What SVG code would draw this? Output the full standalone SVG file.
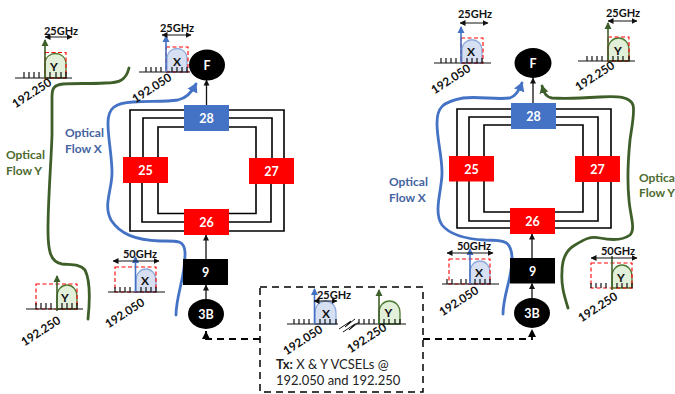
<svg xmlns="http://www.w3.org/2000/svg" width="675" height="394" viewBox="0 0 675 394">
<style>
text{font-family:Lato,"Open Sans","Liberation Sans",sans-serif}
.n{fill:#fff;font-weight:700;font-size:12.5px;text-anchor:middle}
.blk{fill:#000}.red{fill:#f00}.blu{fill:#4472c4}
.w{fill:none;stroke:#000;stroke-width:1.6}
.ar{fill:none;stroke:#111;stroke-width:1.3;marker-end:url(#a)}
.dbl{fill:none;stroke:#111;stroke-width:1;marker-start:url(#as);marker-end:url(#a)}
.fb{fill:none;stroke:#4472c4;stroke-width:2.8;stroke-linecap:round}
.fg{fill:none;stroke:#3f5f2a;stroke-width:2.8;stroke-linecap:round}
.base{fill:none;stroke:#111;stroke-width:1.2}
.box{fill:none;stroke:#f00;stroke-width:1.1;stroke-dasharray:4 2.5}
.hb{fill:#d6e0f2;stroke:#8fabdc;stroke-width:1.3}
.hg{fill:#e2efd9;stroke:#4d7a33;stroke-width:1.3}
.sb{stroke:#4472c4;stroke-width:1.6;fill:none;marker-end:url(#ab)}
.sg{stroke:#3f5f2a;stroke-width:1.6;fill:none;marker-end:url(#ag)}
.l{font-size:11.8px;fill:#111;font-weight:700;text-anchor:middle}
.g{font-size:11px;fill:#111;font-weight:700;text-anchor:middle}
.h{font-size:12px;fill:#111;font-weight:700;text-anchor:middle}
.tb{font-size:12px;font-weight:700;fill:#44639f}
.tg{font-size:12px;font-weight:700;fill:#4d6b2f}
.tx{font-size:13px;fill:#222}
</style>
<defs>
<marker id="a" markerUnits="userSpaceOnUse" markerWidth="7" markerHeight="7" refX="5.500" refY="3.500" orient="auto"><path d="M0 0.500L6 3.500L0 6.500Z" fill="#111"/></marker>
<marker id="as" markerUnits="userSpaceOnUse" markerWidth="7" markerHeight="7" refX="0.500" refY="3.500" orient="auto"><path d="M6 0.500L0 3.500L6 6.500Z" fill="#111"/></marker>
<marker id="ab" markerUnits="userSpaceOnUse" markerWidth="8" markerHeight="8" refX="6" refY="4" orient="auto"><path d="M0 0.5L7 4L0 7.5Z" fill="#4472c4"/></marker>
<marker id="ag" markerUnits="userSpaceOnUse" markerWidth="8" markerHeight="8" refX="6" refY="4" orient="auto"><path d="M0 0.5L7 4L0 7.5Z" fill="#3f5f2a"/></marker>
<marker id="fbm" markerUnits="userSpaceOnUse" markerWidth="12" markerHeight="12" refX="8" refY="6" orient="auto"><path d="M0 0.5L9 6L0 11.5Z" fill="#4472c4"/></marker>
<marker id="fgm" markerUnits="userSpaceOnUse" markerWidth="12" markerHeight="12" refX="7" refY="5" orient="auto"><path d="M0 0.5L8 5L0 9.5Z" fill="#3f5f2a"/></marker>
<marker id="dm" markerUnits="userSpaceOnUse" markerWidth="10" markerHeight="10" refX="8" refY="5" orient="auto"><path d="M0 1L8 5L0 9Z" fill="#000"/></marker>
</defs>

<g id="connectors">
<path class="w" d="M184 110H130V157M184 118H143V157M184 127H158V157M229 110H284V158M229 118H272V158M229 127H256V158M130 183V231H184M142 183V222H184M158 183V213.500H184M284 184V231H229M271 184V222H229M256 184V213.500H229"/>
<path class="w" d="M511 109H457V156M511 117H469V156M511 125H484V156M556 109H611V156M556 117H598V156M556 125H583V156M457 181V228H510M469 181V221H510M484 181V212H510M611 182V228H555M598 182V221H555M583 182V212H555"/>
<path class="ar" d="M206.500 105V80"/><path class="ar" d="M206 259V235"/><path class="ar" d="M206 299V285"/><path class="ar" d="M533 103V78"/><path class="ar" d="M532 258V234"/><path class="ar" d="M532 298V283.500"/>
<path d="M260 339H206V331" fill="none" stroke="#000" stroke-width="1.800" stroke-dasharray="7 5" marker-end="url(#dm)"/>
<path d="M423 339H532V329" fill="none" stroke="#000" stroke-width="1.800" stroke-dasharray="7 5" marker-end="url(#dm)"/>
<path class="fb" marker-end="url(#fbm)" d="M176 315C176 295 186 275 185 252C184 240 178 241 160 241C135 240 120 234 111 220C103 205 112 190 112 173C112 155 108 140 108 123C108 108 115 103 133 102C150 101 165 102 178 100C187 98 192 92 196 84"/>
<path class="fb" marker-end="url(#fbm)" d="M503 314C503 295 513 275 512 257C511 241 505 240 485 240C465 239 450 235 442 225C433 212 442 190 442 173C442 155 437 140 437 123C437 108 442 102 463 98C480 96 495 100 510 98C516 96 519 91 522 83"/>
<path class="fg" d="M129 68C126 80 120 83 105 83C90 84 75 83 63 84C54 85 52 88 52 97C52 110 52 120 52 135C51 165 48 200 48 230C48 250 50 262 62 264C72 265 80 264 85 270C90 280 90 300 88 319"/>
<path class="fg" marker-end="url(#fgm)" d="M568 308C564 295 561 285 562 272C562 258 566 250 575 245C585 239 590 236 600 238C610 240 622 241 630 235C636 229 630 215 629 200C627 180 628 160 630 140C632 125 635 112 633 105C630 97 620 96 600 97C585 98 565 99 552 98C546 97 544 93 542 86"/>
<rect x="260" y="287" width="163" height="105" fill="none" stroke="#000" stroke-width="1.500" stroke-dasharray="7 5"/>
</g>

<g id="n28"><rect class="blu" x="184" y="105" width="45" height="26"/><text class="n" x="206.500" y="122.500">28</text></g>
<g id="n25"><rect class="red" x="123" y="157" width="45" height="26"/><text class="n" x="145.500" y="175">25</text></g>
<g id="n27"><rect class="red" x="249" y="158" width="45" height="26"/><text class="n" x="271.500" y="176">27</text></g>
<g id="n26"><rect class="red" x="184" y="209" width="45" height="26"/><text class="n" x="206.500" y="227">26</text></g>
<g id="n9"><rect class="blk" x="183" y="259" width="45" height="26"/><text class="n" x="205.500" y="277">9</text></g>
<g id="n3B"><ellipse class="blk" cx="206" cy="314" rx="18" ry="15"/><text class="n" x="206" y="318.500">3B</text></g>
<g id="nF"><ellipse class="blk" cx="207" cy="65" rx="18" ry="15.500"/><text class="n" x="207" y="69.500">F</text></g>

<g id="r28"><rect class="blu" x="511" y="103" width="45" height="26"/><text class="n" x="533.500" y="120.500">28</text></g>
<g id="r25"><rect class="red" x="449" y="156" width="45" height="25.500"/><text class="n" x="471.500" y="173.500">25</text></g>
<g id="r27"><rect class="red" x="575" y="156" width="45" height="26"/><text class="n" x="597.500" y="174">27</text></g>
<g id="r26"><rect class="red" x="510" y="208" width="45" height="26"/><text class="n" x="532.500" y="225.500">26</text></g>
<g id="r9"><rect class="blk" x="510" y="258" width="45" height="25.500"/><text class="n" x="532.500" y="275.500">9</text></g>
<g id="r3B"><ellipse class="blk" cx="532" cy="313" rx="18" ry="15"/><text class="n" x="532" y="317.500">3B</text></g>
<g id="rF"><ellipse class="blk" cx="533" cy="63" rx="18.500" ry="15"/><text class="n" x="533" y="67.500">F</text></g>

<text class="tg" x="6" y="159">Optical</text><text class="tg" x="6" y="175">Flow Y</text>
<text class="tb" x="65" y="137">Optical</text><text class="tb" x="65" y="153">Flow X</text>
<text class="tb" x="389" y="186">Optical</text><text class="tb" x="389" y="202">Flow X</text>
<text class="tg" x="639" y="182">Optica</text><text class="tg" x="639" y="197">Flow Y</text>

<g id="spec-y1">
<path class="hg" d="M45 78V64C45 50 66 50 66 64V78Z"/><rect class="box" x="45" y="52.500" width="21" height="25.500"/>
<path class="base" d="M15 78H72M24 72V78M29 72V78M34 72V78M39 72V78M50 72V78M56 72V78M61 72V78M66 72V78"/>
<path class="sg" d="M45 78V40"/><path class="dbl" d="M45 37H72"/>
<text class="h" x="54" y="71">Y</text><text class="g" x="61" y="35">25GHz</text>
<text class="l" transform="translate(34 96.500) rotate(-33)">192.250</text>
</g>
<g id="spec-x1">
<path class="hb" d="M167 72V59C167 45 187 45 187 59V72Z"/><rect class="box" x="166" y="47" width="22" height="25"/>
<path class="base" d="M139 72H190M146 67V72M151 67V72M156 67V72M161 67V72M172 67V72M177 67V72M182 67V72M187 67V72"/>
<path class="sb" d="M166 72V36"/><path class="dbl" d="M162 35H191"/>
<text class="h" x="177" y="65.500">X</text><text class="g" x="177" y="31.500">25GHz</text>
<text class="l" transform="translate(154 91.500) rotate(-33)">192.050</text>
</g>
<g id="spec-y2">
<path class="hg" d="M57 309V297C57 281 77 281 77 297V309Z"/><rect class="box" x="36" y="284" width="41" height="25"/>
<path class="base" d="M26 309H83M36 303V309M41 303V309M46 303V309M51 303V309M62 303V309M67 303V309M72 303V309M77 303V309"/>
<path class="sg" d="M57 311V276"/>
<text class="h" x="65" y="302">Y</text>
<text class="l" transform="translate(43 334.500) rotate(-33)">192.250</text>
</g>
<g id="spec-x2">
<path class="hb" d="M136 292V281C136 265 156 265 156 281V292Z"/><rect class="box" x="115" y="267" width="41" height="25"/>
<path class="base" d="M108 292H165M115 287V292M120 287V292M125 287V292M130 287V292M141 287V292M146 287V292M151 287V292M156 287V292"/>
<path class="sb" d="M135.500 292V257"/><path class="dbl" d="M113 261H159"/>
<text class="h" x="145" y="285">X</text><text class="g" x="140" y="258">50GHz</text>
<text class="l" transform="translate(127 316.500) rotate(-33)">192.050</text>
</g>

<g id="spec-x3">
<path class="hb" d="M462 63V51C462 36 482 36 482 51V63Z"/><rect class="box" x="461" y="38" width="22" height="25"/>
<path class="base" d="M434 63H491M441 58V63M446 58V63M451 58V63M456 58V63M467 58V63M472 58V63M477 58V63M482 58V63"/>
<path class="sb" d="M461 63V27"/><path class="dbl" d="M460 23H488"/>
<text class="h" x="471" y="55.500">X</text><text class="g" x="475" y="18">25GHz</text>
<text class="l" transform="translate(453 82.500) rotate(-33)">192.050</text>
</g>
<g id="spec-y3">
<path class="hg" d="M608 61V50C608 34 629 34 629 50V61Z"/><rect class="box" x="608" y="37" width="21" height="24"/>
<path class="base" d="M578 61H635M587 56V61M592 56V61M597 56V61M602 56V61M613 56V61M618 56V61M623 56V61M629 56V61"/>
<path class="sg" d="M608 61V23"/><path class="dbl" d="M608 21H637"/>
<text class="h" x="618" y="55">Y</text><text class="g" x="623" y="17">25GHz</text>
<text class="l" transform="translate(597 79.500) rotate(-33)">192.250</text>
</g>
<g id="spec-x4">
<path class="hb" d="M470 284V273C470 257 490 257 490 273V284Z"/><rect class="box" x="449" y="259" width="41" height="25"/>
<path class="base" d="M442 284H499M447 279V284M452 279V284M461 279V284M466 279V284M475 279V284M480 279V284M485 279V284M490 279V284"/>
<path class="sb" d="M470 284V249"/><path class="dbl" d="M447 253H493"/>
<text class="h" x="479" y="277">X</text><text class="g" x="474" y="250">50GHz</text>
<text class="l" transform="translate(461 304.500) rotate(-33)">192.050</text>
</g>
<g id="spec-y4">
<path class="hg" d="M612 288V277C612 261 632 261 632 277V288Z"/><rect class="box" x="591" y="263" width="41" height="25"/>
<path class="base" d="M591 283V288M596 283V288M601 283V288M606 283V288M617 283V288M622 283V288M627 283V288M632 283V288"/>
<path d="M612 290V256" fill="none" stroke="#3f5f2a" stroke-width="1.600"/><path class="dbl" d="M591 258H637"/>
<text class="h" x="621" y="282">Y</text><text class="g" x="618" y="255">50GHz</text>
<text class="l" transform="translate(600 310.500) rotate(-33)">192.250</text>
</g>
<g id="tx">
<path class="hb" d="M315 324V313C315 297 336 297 336 313V324Z"/><path class="hg" d="M379 324V313C379 297 400 297 400 313V324Z"/>
<path class="base" d="M287 324H338M355 324H406M294 319V324M299 319V324M304 319V324M309 319V324M320 319V324M325 319V324M330 319V324M336 319V324M359 319V324M364 319V324M369 319V324M374 319V324M384 319V324M389 319V324M395 319V324M400 319V324"/>
<path d="M339 329L351 321L345 327L355 319M343 332L355 324L349 330L359 322" fill="none" stroke="#111" stroke-width="1"/>
<path class="sb" d="M314.500 324V289"/><path class="sg" d="M379 324V290"/>
<path class="dbl" d="M314 301H337"/>
<text class="h" x="326" y="318">X</text><text class="h" x="388.500" y="317">Y</text><text class="g" x="334" y="298.500">25GHz</text>
<text class="l" transform="translate(305 343.500) rotate(-33)">192.050</text>
<text class="l" transform="translate(369 341.500) rotate(-33)">192.250</text>
<text class="tx" x="276" y="368.500"><tspan font-weight="700">Tx:</tspan> X &amp; Y VCSELs @</text>
<text class="tx" x="276" y="385">192.050 and 192.250</text>
</g>
</svg>
